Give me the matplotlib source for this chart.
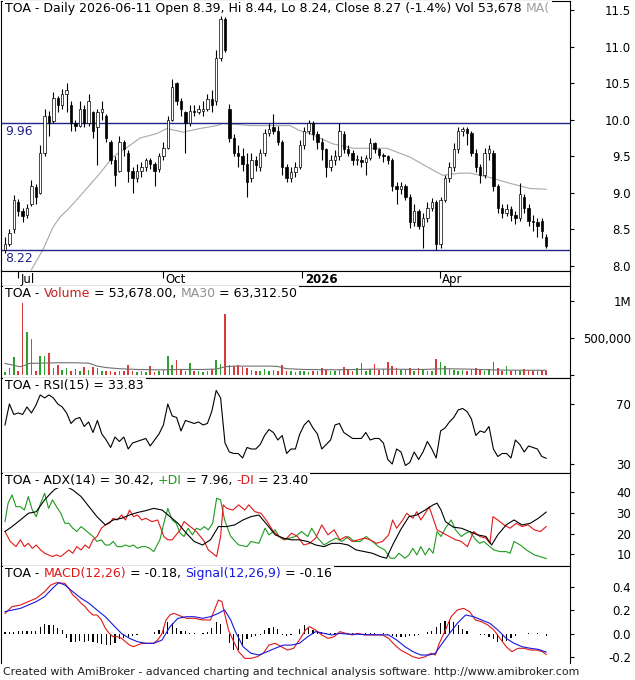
import numpy as np
import matplotlib
matplotlib.use('Agg')
import matplotlib.pyplot as plt
from matplotlib.patches import Rectangle
from matplotlib.transforms import offset_copy

# daily bars, oldest first
opens = [8.22, 8.30, 8.50, 8.88, 8.75, 8.70, 8.85, 9.08, 9.00, 9.55,
         10.05, 9.98, 10.30, 10.20, 10.35, 10.20, 9.95, 9.92, 10.15, 9.95,
         10.10, 9.90, 10.10, 10.05, 9.70, 9.45, 9.30, 9.70, 9.55, 9.30,
         9.20, 9.30, 9.35, 9.45, 9.40, 9.32, 9.50, 9.62, 10.00, 10.50,
         10.25, 10.10, 9.95, 10.12, 10.10, 10.12, 10.15, 10.28, 10.25, 10.85,
         11.38, 10.15, 9.75, 9.55, 9.50, 9.40, 9.20, 9.45, 9.35, 9.55,
         9.82, 9.90, 9.85, 9.70, 9.35, 9.20, 9.28, 9.35, 9.65, 9.85,
         9.95, 9.80, 9.70, 9.60, 9.35, 9.45, 9.50, 9.80, 9.60, 9.55,
         9.45, 9.45, 9.42, 9.48, 9.68, 9.60, 9.52, 9.50, 9.45, 9.10,
         9.05, 9.10, 8.95, 8.60, 8.75, 8.55, 8.65, 8.80, 8.88, 8.30,
         8.90, 9.20, 9.35, 9.60, 9.85, 9.88, 9.82, 9.55, 9.35, 9.25,
         9.55, 9.55, 9.10, 8.80, 8.72, 8.78, 8.70, 8.65, 8.95, 8.80,
         8.62, 8.60, 8.62, 8.39]
highs = [8.40, 8.50, 8.97, 8.92, 8.80, 8.85, 9.18, 9.12, 9.65, 10.15,
         10.12, 10.38, 10.32, 10.42, 10.50, 10.25, 10.00, 10.25, 10.20, 10.35,
         10.12, 10.15, 10.25, 10.08, 9.72, 9.50, 9.78, 9.72, 9.58, 9.35,
         9.40, 9.42, 9.48, 9.48, 9.42, 9.55, 9.70, 10.05, 10.55, 10.52,
         10.30, 10.12, 10.20, 10.20, 10.20, 10.25, 10.35, 10.40, 10.95, 11.42,
         11.40, 10.22, 9.80, 9.65, 9.62, 9.55, 9.55, 9.50, 9.60, 9.88,
         9.95, 10.08, 9.92, 9.72, 9.40, 9.35, 9.42, 9.72, 9.90, 10.00,
         9.98, 9.85, 9.75, 9.62, 9.52, 9.58, 9.95, 9.85, 9.65, 9.58,
         9.52, 9.50, 9.52, 9.75, 9.70, 9.62, 9.55, 9.52, 9.48, 9.15,
         9.15, 9.12, 8.98, 8.85, 8.78, 8.72, 8.88, 8.93, 8.90, 8.95,
         9.25, 9.42, 9.68, 9.90, 9.90, 9.90, 9.85, 9.60, 9.40, 9.62,
         9.65, 9.58, 9.12, 8.85, 8.85, 8.82, 8.75, 9.13, 8.98, 8.85,
         8.70, 8.65, 8.66, 8.44]
lows = [8.18, 8.28, 8.45, 8.68, 8.60, 8.66, 8.82, 8.85, 8.98, 9.50,
        9.78, 9.95, 10.10, 10.15, 10.10, 9.85, 9.85, 9.90, 9.90, 9.92,
        9.75, 9.38, 10.00, 9.70, 9.40, 9.10, 9.28, 9.50, 9.15, 9.00,
        9.15, 9.22, 9.30, 9.32, 9.10, 9.28, 9.45, 9.60, 9.98, 10.20,
        10.05, 9.55, 9.92, 10.05, 10.08, 10.05, 10.12, 10.10, 10.20, 10.80,
        10.92, 9.70, 9.50, 9.35, 9.30, 8.95, 9.15, 9.30, 9.30, 9.50,
        9.78, 9.80, 9.65, 9.25, 9.15, 9.15, 9.22, 9.32, 9.60, 9.80,
        9.72, 9.60, 9.45, 9.22, 9.30, 9.38, 9.45, 9.55, 9.50, 9.38,
        9.38, 9.35, 9.25, 9.45, 9.55, 9.48, 9.42, 9.40, 9.02, 8.85,
        8.98, 8.90, 8.52, 8.55, 8.50, 8.25, 8.60, 8.75, 8.22, 8.25,
        8.88, 9.15, 9.30, 9.55, 9.78, 9.65, 9.50, 9.28, 9.13, 9.20,
        9.45, 9.02, 8.72, 8.65, 8.68, 8.62, 8.58, 8.62, 8.72, 8.55,
        8.48, 8.40, 8.38, 8.24]
closes = [8.30, 8.45, 8.90, 8.75, 8.68, 8.80, 9.10, 8.95, 9.55, 10.05,
          9.95, 10.30, 10.20, 10.35, 10.40, 9.95, 9.92, 10.15, 9.95, 10.25,
          9.85, 10.10, 10.15, 9.75, 9.45, 9.25, 9.70, 9.60, 9.30, 9.20,
          9.30, 9.35, 9.45, 9.40, 9.30, 9.50, 9.62, 10.00, 10.45, 10.25,
          10.15, 9.95, 10.12, 10.10, 10.15, 10.15, 10.28, 10.20, 10.85, 11.38,
          10.95, 9.75, 9.55, 9.50, 9.40, 9.15, 9.45, 9.38, 9.55, 9.82,
          9.88, 9.85, 9.70, 9.35, 9.20, 9.28, 9.35, 9.65, 9.85, 9.95,
          9.80, 9.70, 9.60, 9.35, 9.45, 9.50, 9.85, 9.60, 9.55, 9.45,
          9.45, 9.42, 9.48, 9.68, 9.60, 9.52, 9.50, 9.45, 9.10, 9.05,
          9.10, 8.95, 8.60, 8.75, 8.55, 8.65, 8.80, 8.88, 8.30, 8.90,
          9.20, 9.35, 9.60, 9.85, 9.88, 9.82, 9.55, 9.35, 9.25, 9.55,
          9.60, 9.10, 8.80, 8.72, 8.78, 8.70, 8.65, 8.98, 8.80, 8.62,
          8.60, 8.55, 8.48, 8.27]
volume_k = [40, 90, 245, 60, 975, 580, 490, 60, 260, 250,
            290, 100, 130, 70, 90, 60, 80, 60, 112, 70,
            112, 90, 50, 60, 50, 40, 60, 50, 134, 60,
            40, 50, 45, 120, 40, 60, 70, 255, 140, 200,
            80, 60, 165, 60, 50, 40, 60, 80, 200, 143,
            827, 135, 120, 130, 110, 90, 70, 60, 50, 80,
            60, 70, 50, 134, 60, 50, 40, 60, 50, 45,
            60, 50, 98, 70, 60, 50, 80, 112, 70, 60,
            90, 156, 60, 80, 143, 70, 80, 178, 120, 90,
            70, 80, 100, 60, 90, 70, 60, 50, 210, 178,
            120, 80, 70, 60, 70, 60, 80, 90, 70, 60,
            80, 170, 90, 60, 120, 50, 70, 60, 80, 70,
            60, 50, 70, 53.678]
rsi15 = [56, 70, 63, 64, 63, 68, 64, 69, 76, 74,
         76, 74, 70, 68, 64, 57, 60, 61, 55, 58,
         51, 59, 50, 46, 41, 48, 45, 48, 40, 44,
         45, 46, 47, 42, 46, 50, 56, 70, 62, 61,
         52, 59, 58, 57, 58, 56, 57, 65, 79, 74,
         44, 38, 37, 37, 34, 41, 40, 40, 43, 49,
         53, 51, 46, 49, 37, 40, 40, 50, 56, 59,
         54, 50, 40, 43, 46, 56, 57, 51, 49, 47,
         47, 47, 51, 46, 47, 47, 44, 33, 30, 40,
         38, 29, 31, 38, 33, 38, 45, 40, 34, 52,
         54, 58, 61, 66, 67, 65, 60, 49, 52, 51,
         55, 40, 35, 37, 37, 34, 46, 43, 38, 42,
         41, 40, 35, 33.83]
macd_hist = [0.015, 0.015, 0.015, 0.02, 0.02, 0.025, 0.025, 0.025, 0.06, 0.086,
             0.075, 0.07, 0.05, 0.03, -0.04, -0.07, -0.07, -0.065, -0.07, -0.06,
             -0.07, -0.08, -0.09, -0.1, -0.1, -0.08, -0.05, -0.04, -0.03, -0.02,
             -0.01, -0.005, -0.005, 0.0, 0.01, 0.03, 0.06, 0.1, 0.09, 0.05,
             0.02, 0.02, 0.005, 0.005, 0.0, 0.005, 0.01, 0.05, 0.1, 0.08,
             0.0, -0.08, -0.14, -0.14, -0.1, -0.05, -0.03, -0.02, -0.01, 0.03,
             0.05, 0.06, 0.04, -0.01, -0.02, -0.015, 0.0, 0.04, 0.07, 0.06,
             0.03, 0.01, 0.01, 0.005, 0.003, 0.005, 0.003, 0.0, 0.003, 0.005,
             0.003, 0.0, 0.003, 0.002, 0.003, 0.0, 0.002, -0.01, -0.02, -0.03,
             -0.03, -0.03, -0.02, -0.02, -0.01, 0.0, 0.01, 0.02, 0.06, 0.09,
             0.11, 0.12, 0.1, 0.07, 0.04, 0.02, 0.0, -0.005, -0.01, -0.01,
             -0.03, -0.05, -0.07, -0.07, -0.06, -0.04, -0.02, -0.005, 0.0, 0.003,
             0.0, 0.003, 0.0, -0.02]

# smoother lines, read at selected bars
ma_bars = [6, 8.6, 10.9, 12.5, 14.1, 17.7, 21.6, 24.5, 27.7, 30.7,
           34.5, 36.8, 40.5, 44.3, 48.2, 49.5, 55.7, 60.2, 64.8, 67,
           69.3, 74.5, 79.1, 86.8, 92, 97.3, 99.5, 103.4, 105.7, 110.2,
           114.8, 119.3, 123]
ma_vals = [7.95, 8.22, 8.53, 8.67, 8.76, 9.0, 9.27, 9.49, 9.62, 9.75,
           9.81, 9.88, 9.83, 9.88, 9.92, 9.95, 9.92, 9.92, 9.92, 9.85,
           9.81, 9.67, 9.61, 9.61, 9.49, 9.31, 9.24, 9.27, 9.27, 9.21,
           9.13, 9.06, 9.05]
vma_bars = [0, 3.4, 4.5, 5.5, 8, 12, 16, 19, 21, 23,
            26, 30, 35, 40, 45, 48, 50, 52, 56, 60,
            62, 64, 68, 75, 85, 95, 100, 105, 110, 115, 123]
vma_k = [156, 112, 130, 156, 160, 165, 165, 160, 120, 100,
         85, 75, 70, 75, 75, 80, 110, 120, 120, 120,
         115, 85, 75, 70, 80, 75, 85, 80, 70, 65, 63.3125]

adx_bars = [0, 1.6, 3.5, 5.3, 7.1, 9.0, 10.4, 11.3, 13.3, 15.4,
            17.3, 19.1, 20.9, 22.8, 24.6, 26.5, 28.3, 30.1, 32.0, 33.8,
            35.7, 37.5, 39.3, 41.2, 43.0, 44.9, 46.7, 48.5, 50.4, 52.2,
            54.1, 55.9, 57.7, 59.6, 61.4, 63.3, 65.1, 66.9, 68.8, 70.6,
            72.5, 74.3, 76.1, 78.0, 79.8, 81.7, 83.5, 85.3, 86.7, 88.1,
            89.9, 91.8, 93.6, 95.5, 97.3, 98.2, 99.1, 100.1, 101.9, 103.7,
            105.6, 107.4, 109.3, 110.6, 112.0, 113.9, 115.7, 117.5, 119.4, 121.2,
            123]
adx_vals = [21, 23.4, 26.6, 29.8, 30.6, 36.3, 39.5, 41.4, 43.5, 41.1,
            37.9, 33, 28.2, 24.2, 26.6, 27.4, 29, 30.2, 31.1, 32.2,
            31.4, 28.2, 25, 20.2, 16.2, 14.5, 17, 23.4, 23.4, 24.2,
            26.6, 28.2, 29, 24.2, 19.4, 17.8, 17, 17, 16.2, 14.5,
            13.7, 15.3, 15.3, 14.5, 12.1, 11.3, 10.5, 8.9, 8.1, 14.5,
            21.8, 28.2, 29, 31.4, 33.9, 34.7, 31.4, 25.8, 23.1, 22.6,
            21, 19.4, 18.6, 14.5, 19.4, 24.2, 26.6, 24.2, 25, 27.4,
            30.42]
pdi_bars = [0, 0.7, 1.6, 2.5, 3.5, 4.4, 5.3, 6.2, 7.1, 8.1,
            9.0, 9.9, 10.8, 11.7, 12.7, 13.6, 14.5, 15.4, 16.3, 17.3,
            18.2, 19.1, 20.0, 20.9, 21.9, 22.8, 23.7, 24.6, 25.5, 26.5,
            27.4, 28.3, 29.2, 30.1, 31.1, 32.0, 32.9, 33.8, 35.2, 36.1,
            37.0, 38.0, 38.9, 39.8, 40.7, 41.6, 42.6, 43.5, 44.4, 45.3,
            46.2, 47.2, 48.1, 49.0, 49.9, 51.3, 53.1, 55.0, 55.9, 57.7,
            59.1, 60.0, 61.4, 62.3, 63.3, 64.6, 66.0, 67.4, 68.8, 69.7,
            71.1, 72.5, 73.8, 75.2, 76.6, 78.0, 79.4, 80.7, 82.1, 83.5,
            84.9, 86.3, 87.6, 88.6, 89.5, 90.9, 91.8, 92.7, 93.6, 94.5,
            95.5, 96.4, 97.3, 98.2, 99.1, 100.1, 101.4, 102.4, 103.7, 104.7,
            105.6, 107.0, 107.9, 108.8, 110.2, 111.1, 112.5, 113.9, 114.8, 115.7,
            117.1, 118.5, 120.3, 123]
pdi_vals = [25.8, 34.7, 38.7, 33, 33, 31.4, 37.9, 31.4, 28.2, 34.7,
            39.5, 32.2, 36.3, 33, 29.8, 25, 25, 22.6, 21, 23.4,
            21.8, 20.2, 18.6, 16.2, 17, 14.5, 14.5, 16.2, 13.7, 13.7,
            14.5, 13.7, 14.5, 12.9, 13.7, 13.7, 12.9, 11.3, 17, 25,
            32.2, 26.6, 25, 20.2, 18.6, 22.6, 19.4, 22.6, 21.8, 23.4,
            21.8, 25, 37.1, 36.3, 26.6, 18.6, 14.5, 13.7, 16.2, 15.3,
            22.6, 19.4, 21.8, 18.6, 17, 17.8, 18.6, 21, 18.6, 22.6,
            17.8, 14.5, 16.2, 17.8, 16.2, 18.6, 16.2, 16.2, 18.6, 16.2,
            13.7, 12.1, 8.1, 8.1, 10.5, 8.1, 9.7, 12.9, 9.7, 13.7,
            9.7, 12.9, 10.5, 21, 18.6, 22.6, 26.6, 21.8, 18.6, 20.2,
            21, 17, 15.3, 16.2, 13.7, 12.1, 11.3, 11.3, 10.5, 16.2,
            14.5, 12.1, 9.7, 7.96]
mdi_bars = [0, 1.2, 2.5, 3.5, 4.4, 5.3, 6.2, 7.1, 8.1, 9.0,
            9.9, 10.8, 11.7, 12.7, 13.6, 14.5, 15.4, 16.3, 17.3, 18.2,
            19.1, 20.0, 20.9, 21.9, 22.8, 23.7, 24.6, 25.5, 26.5, 27.4,
            28.3, 29.2, 30.1, 31.1, 32.0, 33.4, 34.7, 36.1, 37.0, 38.0,
            38.9, 39.8, 40.7, 41.6, 42.6, 43.5, 44.4, 45.3, 46.2, 47.2,
            48.1, 49.0, 49.6, 50.4, 51.8, 53.1, 54.5, 55.4, 56.8, 58.2,
            59.6, 61.0, 62.3, 63.7, 65.1, 66.5, 67.9, 69.2, 70.6, 72.0,
            73.4, 74.8, 76.1, 77.5, 78.9, 80.3, 81.7, 83.0, 84.4, 85.8,
            87.2, 88.1, 89.0, 90.4, 91.3, 92.7, 93.6, 94.5, 95.5, 96.4,
            97.3, 98.2, 99.6, 101.0, 102.4, 103.7, 105.1, 106.5, 107.9, 109.3,
            110.2, 110.9, 112.0, 113.4, 114.8, 116.2, 117.5, 118.9, 120.3, 121.7,
            123]
mdi_vals = [21, 16.2, 13.7, 17, 13.7, 15.3, 12.9, 14.5, 12.1, 10.5,
            9.7, 8.9, 9.7, 8.9, 10.5, 12.1, 10.5, 13.7, 12.1, 14.5,
            12.9, 17, 18.6, 22.6, 24.2, 25, 27.4, 26.6, 29, 26.6,
            31.4, 28.2, 29, 26.6, 27.4, 25.8, 26.6, 18.6, 17, 17,
            19.4, 21.8, 25.8, 24.2, 22.6, 21, 18.6, 16.2, 12.1, 10.5,
            8.9, 18.6, 33.9, 32.2, 31.4, 33.9, 31.4, 33.9, 30.6, 29.8,
            25.8, 21, 18.6, 17, 20.2, 18.6, 14.5, 15.3, 17.8, 24.2,
            19.4, 21.8, 17, 18.6, 16.2, 17, 17.8, 17, 15.3, 16.2,
            19.4, 26.6, 22.6, 26.6, 29.8, 27.4, 30.6, 26.6, 29.8, 33,
            27.4, 21.8, 20.2, 18.6, 17, 16.2, 13.7, 21, 18.6, 17.8,
            15.3, 28.2, 26.6, 24.2, 22.6, 25, 23.4, 24.2, 21.8, 21,
            23.4]
macd_bars = [0, 1.6, 3.5, 5.3, 7.1, 9.0, 10.4, 11.7, 13.6, 14.5,
             15.4, 16.3, 17.3, 18.2, 19.1, 20.0, 20.9, 21.9, 22.8, 23.7,
             24.6, 25.5, 26.5, 27.4, 28.3, 29.2, 30.1, 31.1, 32.9, 33.8,
             34.7, 35.7, 36.6, 37.5, 38.4, 39.3, 40.3, 41.2, 43.0, 44.9,
             46.7, 47.6, 48.5, 49.3, 49.9, 50.8, 51.8, 53.1, 54.5, 55.9,
             57.3, 58.7, 60.0, 61.4, 62.8, 64.2, 65.6, 66.9, 68.3, 69.2,
             70.6, 72.0, 73.4, 74.8, 76.1, 77.5, 78.9, 80.3, 81.7, 84.4,
             85.8, 87.2, 88.6, 89.9, 91.3, 92.7, 94.1, 95.5, 96.8, 97.8,
             98.7, 100.1, 101.4, 102.8, 104.2, 105.6, 106.9, 108.3, 109.7, 111.1,
             112.5, 113.9, 115.2, 116.6, 118.0, 119.4, 120.8, 122.1, 123]
macd_vals = [0.175, 0.233, 0.247, 0.276, 0.305, 0.362, 0.42, 0.44, 0.434, 0.39,
             0.334, 0.305, 0.262, 0.233, 0.19, 0.161, 0.161, 0.118, 0.046, 0.002,
             -0.027, -0.027, -0.041, -0.07, -0.099, -0.113, -0.099, -0.084, -0.084, -0.084,
             -0.055, 0.0, 0.118, 0.161, 0.175, 0.161, 0.146, 0.132, 0.132, 0.118,
             0.118, 0.204, 0.29, 0.276, 0.175, 0.031, -0.055, -0.156, -0.214, -0.214,
             -0.2, -0.17, -0.099, -0.084, -0.113, -0.142, -0.127, -0.055, 0.031, 0.06,
             0.031, -0.012, -0.041, -0.027, 0.017, 0.002, -0.012, 0.002, -0.012, -0.012,
             -0.012, -0.041, -0.099, -0.142, -0.17, -0.2, -0.214, -0.2, -0.17, -0.185,
             -0.084, 0.031, 0.146, 0.204, 0.218, 0.19, 0.118, 0.103, 0.075, 0.031,
             -0.041, -0.113, -0.156, -0.127, -0.127, -0.142, -0.142, -0.156, -0.18]
sig_bars = [0, 3.5, 7.1, 9.0, 10.8, 12.2, 13.6, 15.4, 17.3, 19.1,
            20.9, 22.8, 24.6, 26.5, 28.3, 30.1, 32.0, 33.8, 35.7, 37.5,
            39.3, 41.2, 43.0, 44.9, 46.7, 48.5, 49.9, 51.3, 52.2, 54.1,
            55.9, 57.7, 59.6, 61.4, 63.3, 65.1, 66.9, 68.8, 70.6, 72.5,
            74.3, 76.1, 78.0, 79.8, 81.7, 83.5, 85.3, 87.2, 89.0, 90.9,
            92.7, 94.5, 96.4, 97.8, 99.1, 101.0, 102.8, 104.7, 106.5, 108.3,
            110.2, 112.0, 113.9, 115.7, 117.5, 119.4, 121.2, 123]
sig_vals = [0.19, 0.218, 0.276, 0.319, 0.391, 0.44, 0.42, 0.362, 0.305, 0.262,
            0.204, 0.146, 0.074, 0.0, -0.041, -0.07, -0.084, -0.084, -0.055, 0.06,
            0.132, 0.146, 0.146, 0.132, 0.146, 0.175, 0.204, 0.118, 0.031, -0.113,
            -0.17, -0.185, -0.156, -0.127, -0.099, -0.099, -0.084, -0.027, 0.017, 0.002,
            -0.012, 0.002, -0.005, -0.005, -0.008, -0.01, -0.01, -0.012, -0.055, -0.113,
            -0.156, -0.185, -0.185, -0.17, -0.099, 0.0, 0.089, 0.161, 0.146, 0.118,
            0.089, 0.031, -0.041, -0.084, -0.113, -0.127, -0.136, -0.16]

levels = [9.96, 8.22]
month_bars = [3, 36, 67.6, 98.8]
month_labels = ['Jul', 'Oct', '2026', 'Apr']

NAVY = '#23238c'
RED = '#e01818'
GREEN = '#1e9a1e'
BLUE = '#1818e0'
TXT = 9

W, H = 635, 680
fig = plt.figure(figsize=(W / 100, H / 100), dpi=100)
XMIN, XMAX = (1 - 5) / 4.4, (570 - 5) / 4.4


def rect(top, bottom):
    return [1 / W, 1 - bottom / H, 569 / W, (bottom - top) / H]


def panel(top, bottom, ylim, ticks, labels):
    ax = fig.add_axes(rect(top, bottom))
    ax.set_xlim(XMIN, XMAX)
    ax.set_ylim(*ylim)
    ax.set_xticks([])
    ax.yaxis.tick_right()
    ax.set_yticks(ticks)
    ax.set_yticklabels(labels)
    ax.tick_params(axis='y', direction='out', length=3, width=0.8, pad=41, labelsize=8.5)
    for t in ax.get_yticklabels():
        t.set_horizontalalignment('right')
    for s in ax.spines.values():
        s.set_linewidth(0.8)
    return ax


def title(ax, parts):
    r = fig.canvas.get_renderer()
    x = 3.0
    boxes = []
    for s, c in parts:
        t = ax.text(0, 1, s, transform=offset_copy(ax.transAxes, fig=fig, x=x, y=-1.0, units='points'),
                    ha='left', va='top', fontsize=TXT, color=c, zorder=6, clip_on=True)
        bb = t.get_window_extent(r)
        boxes.append(bb)
        x += bb.width * 72 / fig.dpi
    inv = ax.transAxes.inverted()
    (x0, y0), (x1, y1) = inv.transform([(boxes[0].x0 - 2, min(b.y0 for b in boxes) - 1),
                                        (boxes[-1].x1 + 2, max(b.y1 for b in boxes) + 1)])
    ax.add_patch(Rectangle((x0, y0), x1 - x0, y1 - y0, transform=ax.transAxes,
                           fc='white', ec='none', zorder=5))


idx = np.arange(len(closes))
o, h, l, c = map(np.array, (opens, highs, lows, closes))

# price panel
ax = panel(0.5, 270.7, (7.936, 11.63), [8.0, 8.5, 9.0, 9.5, 10.0, 10.5, 11.0, 11.5],
           ['8.0', '8.5', '9.0', '9.5', '10.0', '10.5', '11.0', '11.5'])
ax.plot(ma_bars, ma_vals, color='#a8a8a8', lw=0.8, zorder=1)
for v in levels:
    ax.axhline(v, color=NAVY, lw=1.0, zorder=1.5)
    ax.text(0, v, f'{v:.2f}', transform=offset_copy(ax.transData, fig=fig, y=-1.5, units='points'),
            ha='left', va='top', fontsize=TXT, color=NAVY)
up = c >= o
ax.vlines(idx, l, h, color='black', lw=0.8, zorder=2)
ax.bar(idx, np.maximum(np.abs(c - o), 0.012), bottom=np.minimum(o, c), width=0.55,
       color=np.where(up, 'white', 'black'), edgecolor='black', linewidth=0.5, zorder=3)
title(ax, [('TOA - Daily 2026-06-11 Open 8.39, Hi 8.44, Lo 8.24, Close 8.27 (-1.4%) Vol 53,678 ', 'black'),
           ('MA(', '#a0a0a0')])

# date row
axd = fig.add_axes(rect(270.7, 286))
axd.set_xlim(XMIN, XMAX)
axd.set_ylim(0, 1)
axd.set_yticks([])
axd.set_xticks(month_bars)
axd.set_xticklabels([])
axd.tick_params(axis='x', direction='in', top=True, bottom=False, length=5, width=0.8)
for s in axd.spines.values():
    s.set_linewidth(0.8)
for b, lab in zip(month_bars, month_labels):
    axd.text(b + 0.5, 0.42, lab, ha='left', va='center', fontsize=8.5,
             fontweight='bold' if lab == '2026' else 'normal')

# volume panel
axv = panel(286, 378, (-40000, 1198000), [0, 500000, 1000000], ['', '500,000', '1M'])
prev = np.concatenate([[o[0]], c[:-1]])
vcol = np.where(c >= prev, '#2ea02e', '#d83a3a')
axv.bar(idx, np.array(volume_k) * 1000, width=0.4, color=vcol, zorder=2)
axv.plot(vma_bars, np.array(vma_k) * 1000, color='#707070', lw=0.8, zorder=3)
title(axv, [('TOA - ', 'black'), ('Volume', '#c81e1e'), (' = 53,678.00, ', 'black'),
            ('MA30', '#909090'), (' = 63,312.50', 'black')])

# RSI panel
axr = panel(378, 473, (24, 87.3), [30, 70], ['30', '70'])
axr.plot(idx, rsi15, color='black', lw=0.8)
title(axr, [('TOA - RSI(15) = 33.83', 'black')])

# ADX panel
axa = panel(473, 566, (4.34, 49.3), [10, 20, 30, 40], ['10', '20', '30', '40'])
axa.plot(pdi_bars, pdi_vals, color=GREEN, lw=0.8)
axa.plot(mdi_bars, mdi_vals, color=RED, lw=0.8)
axa.plot(adx_bars, adx_vals, color='black', lw=0.8)
title(axa, [('TOA - ADX(14) = 30.42, ', 'black'), ('+DI', GREEN), (' = 7.96, ', 'black'),
            ('-DI', RED), (' = 23.40', 'black')])

# MACD panel
axm = panel(566, 663, (-0.254, 0.584), [-0.2, 0.0, 0.2, 0.4], ['-0.2', '0.0', '0.2', '0.4'])
axm.spines['bottom'].set_visible(False)
axm.bar(idx, macd_hist, width=0.3, color='black', zorder=2)
axm.plot(macd_bars, macd_vals, color=RED, lw=0.8, zorder=3)
axm.plot(sig_bars, sig_vals, color=BLUE, lw=0.8, zorder=3)
title(axm, [('TOA - ', 'black'), ('MACD(12,26)', RED), (' = -0.18, ', 'black'),
            ('Signal(12,26,9)', BLUE), (' = -0.16', 'black')])

fig.text(3 / W, 1 - 672 / H, 'Created with AmiBroker - advanced charting and technical analysis software. '
         'http://www.amibroker.com', ha='left', va='center', fontsize=7.9, color='#202020')

fig.savefig('out.png', dpi=100)
